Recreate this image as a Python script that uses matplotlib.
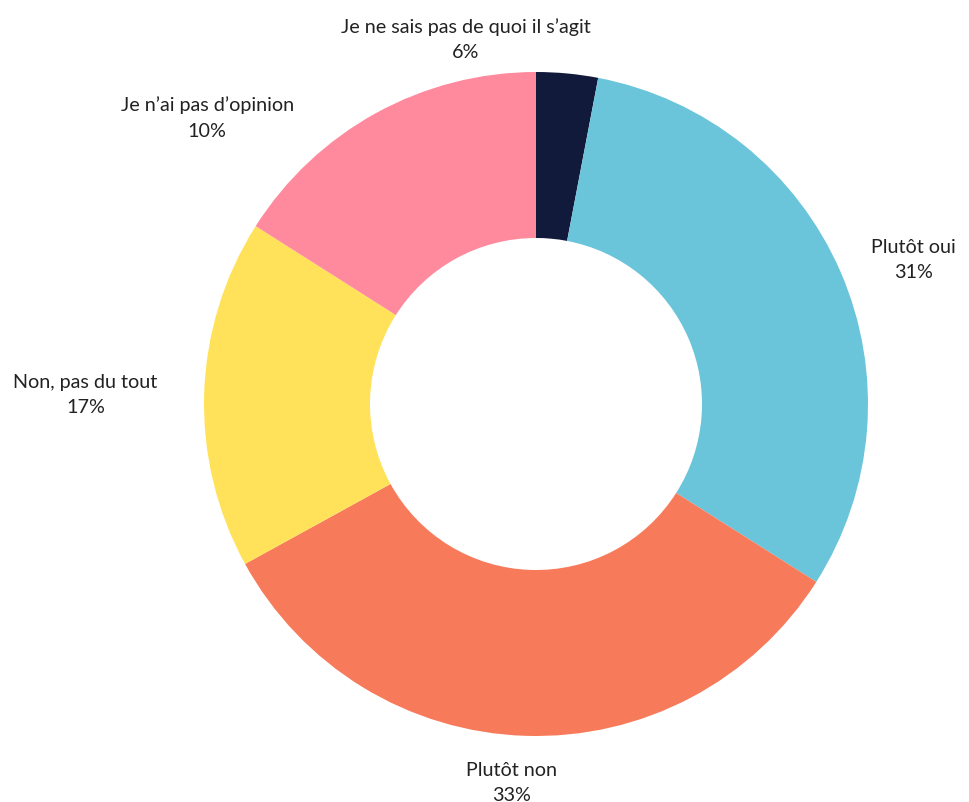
import numpy as np
import matplotlib
matplotlib.use("Agg")
import matplotlib.pyplot as plt

plt.rcParams['font.family'] = ['Lato', 'DejaVu Sans']

# Data (slice sizes as drawn, clockwise from 12 o'clock) and printed labels
categories = ["Je ne sais pas de quoi il s’agit", "Plutôt oui", "Plutôt non",
              "Non, pas du tout", "Je n’ai pas d’opinion"]
slice_values = [3, 31, 33, 17, 16]
label_pcts = ["6%", "31%", "33%", "17%", "10%"]
colors = ["#121A3B", "#6BC5DA", "#F77B5A", "#FFE259", "#FF8A9D"]

W, H = 970, 803
fig = plt.figure(figsize=(W / 100, H / 100), dpi=100)
cx, cy, R = 536, 405, 332
ax = fig.add_axes([(cx - R) / W, (H - cy - R) / H, 2 * R / W, 2 * R / H])

wedges, _ = ax.pie(slice_values, colors=colors, startangle=90, counterclock=False,
                   radius=1, wedgeprops=dict(width=0.5, linewidth=0),
                   normalize=True)
ax.set_xlim(-1, 1)
ax.set_ylim(-1, 1)
ax.set_aspect('equal')
ax.axis('off')

# label nudges (in data units) for labels shifted to avoid overlap
nudges = {0: (-0.315, -0.06), 2: (-0.04, 0.025), 3: (-0.04, -0.005),
          4: (-0.20, -0.10)}
for i, w in enumerate(wedges):
    mid = np.deg2rad((w.theta1 + w.theta2) / 2)
    rl = 1.1
    x, y = rl * np.cos(mid), rl * np.sin(mid)
    dx, dy = nudges.get(i, (0, 0))
    x += dx
    y += dy
    if abs(np.cos(mid)) < 0.25:
        ha = 'center'
        va = 'bottom' if y > 0 else 'top'
    else:
        ha = 'left' if x > 0 else 'right'
        va = 'center'
    ax.text(x, y, f"{categories[i]}\n{label_pcts[i]}", ha=ha, va=va,
            multialignment='center', fontsize=14.2, color='#222222',
            linespacing=1.6, clip_on=False)

fig.savefig("out.png", dpi=100)
